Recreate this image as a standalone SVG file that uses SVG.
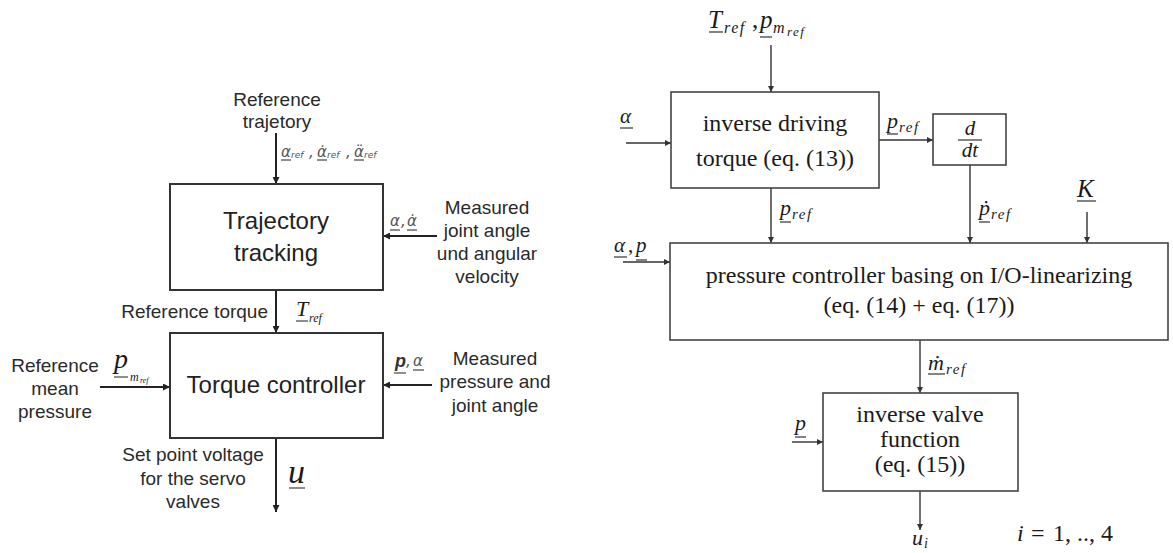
<svg xmlns="http://www.w3.org/2000/svg" width="1173" height="553" viewBox="0 0 1173 553">
<defs>
<marker id="al" viewBox="0 0 10 10" refX="10" refY="5" markerWidth="9" markerHeight="7" orient="auto" markerUnits="userSpaceOnUse"><path d="M0,0 L10,5 L0,10 z" fill="#222"/></marker>
<marker id="ar" viewBox="0 0 10 10" refX="10" refY="5" markerWidth="8" markerHeight="6" orient="auto" markerUnits="userSpaceOnUse"><path d="M0,0 L10,5 L0,10 z" fill="#333"/></marker>
<style>
.lb{fill:none;stroke:#333;stroke-width:2}
.rb{fill:none;stroke:#444;stroke-width:1.6}
.lc{stroke:#222;stroke-width:2;fill:none}
.rc{stroke:#333;stroke-width:1.4;fill:none}
.ul{stroke:#444;stroke-width:1.2}
.ulr{stroke:#333;stroke-width:1.2}
.s{font-family:"Liberation Sans",Arial,sans-serif;fill:#2a2a2a;font-size:19px}
.sb{font-family:"Liberation Sans",Arial,sans-serif;fill:#222;font-size:24px}
.sm{font-family:"DejaVu Sans","Liberation Sans",sans-serif;fill:#555;font-style:italic}
.t{font-family:"Liberation Serif","Times New Roman",serif;fill:#1a1a1a;font-size:24px}
.mi{font-family:"Liberation Serif","Times New Roman",serif;fill:#1a1a1a;font-style:italic}
.sub{letter-spacing:1.5px}
</style>
</defs>
<rect width="1173" height="553" fill="#fff"/>

<g id="connectors">
<line class="lc" x1="276" y1="133" x2="276" y2="184" marker-end="url(#al)"/>
<line class="lc" x1="437" y1="236" x2="383" y2="236" marker-end="url(#al)"/>
<line class="lc" x1="276" y1="290" x2="276" y2="333" marker-end="url(#al)"/>
<line class="lc" x1="100" y1="387" x2="170" y2="387" marker-end="url(#al)"/>
<line class="lc" x1="432" y1="385" x2="383" y2="385" marker-end="url(#al)"/>
<line class="lc" x1="276" y1="438" x2="276" y2="512" marker-end="url(#al)"/>

<line class="rc" x1="771" y1="45" x2="771" y2="92" marker-end="url(#ar)"/>
<line class="rc" x1="626" y1="143" x2="671" y2="143" marker-end="url(#ar)"/>
<line class="rc" x1="879" y1="140" x2="933" y2="140" marker-end="url(#ar)"/>
<line class="rc" x1="771" y1="188" x2="771" y2="243" marker-end="url(#ar)"/>
<line class="rc" x1="970" y1="165" x2="970" y2="243" marker-end="url(#ar)"/>
<line class="rc" x1="1087" y1="212" x2="1087" y2="243" marker-end="url(#ar)"/>
<line class="rc" x1="623" y1="262" x2="670" y2="262" marker-end="url(#ar)"/>
<line class="rc" x1="920" y1="340" x2="920" y2="393" marker-end="url(#ar)"/>
<line class="rc" x1="792" y1="442" x2="823" y2="442" marker-end="url(#ar)"/>
<line class="rc" x1="920" y1="491" x2="920" y2="530" marker-end="url(#ar)"/>
</g>

<!-- Left diagram -->
<g id="ref-trajectory-label">
<text class="s" x="277" y="106" text-anchor="middle">Reference</text>
<text class="s" x="277" y="128" text-anchor="middle">trajetory</text>
<text class="sm" y="157" font-size="15"><tspan x="281">α</tspan><tspan x="291" dy="1" font-size="9">ref</tspan><tspan x="309" dy="-1">,</tspan><tspan x="317">α̇</tspan><tspan x="327" dy="1" font-size="9">ref</tspan><tspan x="346" dy="-1">,</tspan><tspan x="354">α̈</tspan><tspan x="364" dy="1" font-size="9">ref</tspan></text>
<line class="ul" x1="281" y1="160" x2="291" y2="160"/>
<line class="ul" x1="317" y1="160" x2="327" y2="160"/>
<line class="ul" x1="354" y1="160" x2="364" y2="160"/>
</g>

<g id="trajectory-tracking">
<rect class="lb" x="170" y="184" width="213" height="106"/>
<text class="sb" x="276" y="229" text-anchor="middle">Trajectory</text>
<text class="sb" x="276" y="261" text-anchor="middle">tracking</text>
</g>

<g id="measured-joint">
<text class="s" x="487" y="214" text-anchor="middle">Measured</text>
<text class="s" x="487" y="237" text-anchor="middle">joint angle</text>
<text class="s" x="487" y="260" text-anchor="middle">und angular</text>
<text class="s" x="487" y="283" text-anchor="middle">velocity</text>
<text class="sm" y="226" font-size="15"><tspan x="390">α</tspan><tspan x="401">,</tspan><tspan x="407">α̇</tspan></text>
<line class="ul" x1="390" y1="230" x2="400" y2="230"/>
<line class="ul" x1="407" y1="230" x2="417" y2="230"/>
</g>

<g id="ref-torque-label">
<text class="s" x="268" y="318" text-anchor="end">Reference torque</text>
<text class="mi" y="316" font-size="22" fill="#555"><tspan x="296">T</tspan><tspan x="309" dy="6" font-size="12">ref</tspan></text>
<line class="ul" x1="296" y1="321" x2="308" y2="321"/>
</g>

<g id="torque-controller">
<rect class="lb" x="170" y="333" width="213" height="105"/>
<text class="sb" x="276" y="393" text-anchor="middle">Torque controller</text>
</g>

<g id="ref-mean-pressure">
<text class="s" x="55" y="372" text-anchor="middle">Reference</text>
<text class="s" x="55" y="395" text-anchor="middle">mean</text>
<text class="s" x="55" y="418" text-anchor="middle">pressure</text>
<text class="mi" y="368" font-size="28" fill="#444"><tspan x="114">p</tspan><tspan x="130" dy="13" font-size="12">m</tspan><tspan x="140" dy="2" font-size="8">ref</tspan></text>
<line class="ul" x1="114" y1="377" x2="128" y2="377"/>
</g>

<g id="measured-pressure">
<text class="s" x="495" y="365" text-anchor="middle">Measured</text>
<text class="s" x="495" y="388" text-anchor="middle">pressure and</text>
<text class="s" x="495" y="412" text-anchor="middle">joint angle</text>
<text font-family="Liberation Sans,Arial,sans-serif" font-weight="bold" font-style="italic" font-size="18" fill="#333" x="395" y="367">p</text>
<text class="sm" font-size="15" y="366"><tspan x="406">,</tspan><tspan x="413">α</tspan></text>
<line class="ul" x1="394" y1="373" x2="406" y2="373"/>
<line class="ul" x1="413" y1="370" x2="424" y2="370"/>
</g>

<g id="set-point-voltage">
<text class="s" x="193" y="461" text-anchor="middle">Set point voltage</text>
<text class="s" x="193" y="485" text-anchor="middle">for the servo</text>
<text class="s" x="193" y="508" text-anchor="middle">valves</text>
<text class="mi" x="288" y="483" font-size="34" fill="#333">u</text>
<line class="ul" x1="289" y1="488" x2="305" y2="488" stroke-width="1.8"/>
</g>

<!-- Right diagram -->
<g id="top-inputs">
<text class="mi" y="28" font-size="25"><tspan x="708">T</tspan><tspan x="724" dy="5" font-size="16" class="sub">ref</tspan><tspan x="752" dy="-5" font-style="normal">,</tspan><tspan x="760">p</tspan><tspan x="773" dy="5" font-size="16">m</tspan><tspan x="787" dy="3" font-size="13" class="sub">ref</tspan></text>
<line class="ulr" x1="709" y1="32" x2="723" y2="32"/>
<line class="ulr" x1="760" y1="37" x2="772" y2="37"/>
</g>

<g id="inverse-driving-torque">
<rect class="rb" x="671" y="92" width="208" height="96"/>
<text class="t" x="775" y="131" text-anchor="middle">inverse driving</text>
<text class="t" x="775" y="166" text-anchor="middle">torque (eq. (13))</text>
<text class="mi" x="620" y="123" font-size="21">α</text>
<line class="ulr" x1="620" y1="128" x2="633" y2="128"/>
</g>

<g id="pref-labels">
<text class="mi" y="128" font-size="22"><tspan x="887">p</tspan><tspan x="899" dy="4" font-size="15" class="sub">ref</tspan></text>
<line class="ulr" x1="887" y1="134" x2="898" y2="134"/>
<text class="mi" y="215" font-size="22"><tspan x="780">p</tspan><tspan x="792" dy="4" font-size="15" class="sub">ref</tspan></text>
<line class="ulr" x1="780" y1="222" x2="791" y2="222"/>
</g>

<g id="ddt">
<rect class="rb" x="933" y="114" width="73" height="51"/>
<text class="mi" x="970" y="135" font-size="21" text-anchor="middle">d</text>
<line class="ulr" x1="958" y1="140" x2="982" y2="140"/>
<text class="mi" x="970" y="157" font-size="21" text-anchor="middle">dt</text>
<text class="mi" y="215" font-size="22"><tspan x="979">ṗ</tspan><tspan x="991" dy="4" font-size="15" class="sub">ref</tspan></text>
<line class="ulr" x1="979" y1="222" x2="990" y2="222"/>
</g>

<g id="k-input">
<text class="mi" x="1077" y="197" font-size="25">K</text>
<line class="ulr" x1="1077" y1="201" x2="1096" y2="201"/>
</g>

<g id="pressure-controller">
<rect class="rb" x="670" y="243" width="498" height="97"/>
<text class="t" x="919" y="283" text-anchor="middle" font-size="24.5">pressure controller basing on I/O-linearizing</text>
<text class="t" x="919" y="313" text-anchor="middle" font-size="24.5">(eq. (14) + eq. (17))</text>
<text class="mi" y="252" font-size="21"><tspan x="614">α</tspan><tspan x="628" font-style="normal">,</tspan><tspan x="636">p</tspan></text>
<line class="ulr" x1="614" y1="257" x2="627" y2="257"/>
<line class="ulr" x1="636" y1="260" x2="647" y2="260"/>
</g>

<g id="mdot-label">
<text class="mi" y="370" font-size="22"><tspan x="928">ṁ</tspan><tspan x="946" dy="4" font-size="15" class="sub">ref</tspan></text>
<line class="ulr" x1="928" y1="374" x2="945" y2="374"/>
</g>

<g id="inverse-valve">
<rect class="rb" x="823" y="393" width="195" height="98"/>
<text class="t" x="920" y="422" text-anchor="middle">inverse valve</text>
<text class="t" x="920" y="447" text-anchor="middle">function</text>
<text class="t" x="920" y="472" text-anchor="middle">(eq. (15))</text>
<text class="mi" x="795" y="430" font-size="22">p</text>
<line class="ulr" x1="795" y1="437" x2="806" y2="437"/>
</g>

<g id="outputs">
<text class="mi" y="545" font-size="22"><tspan x="912">u</tspan><tspan x="924" dy="3" font-size="14">i</tspan></text>
<text class="t" y="541" font-size="24"><tspan x="1017" font-style="italic">i</tspan><tspan x="1031">=</tspan><tspan x="1053">1, .., 4</tspan></text>
</g>
</svg>
